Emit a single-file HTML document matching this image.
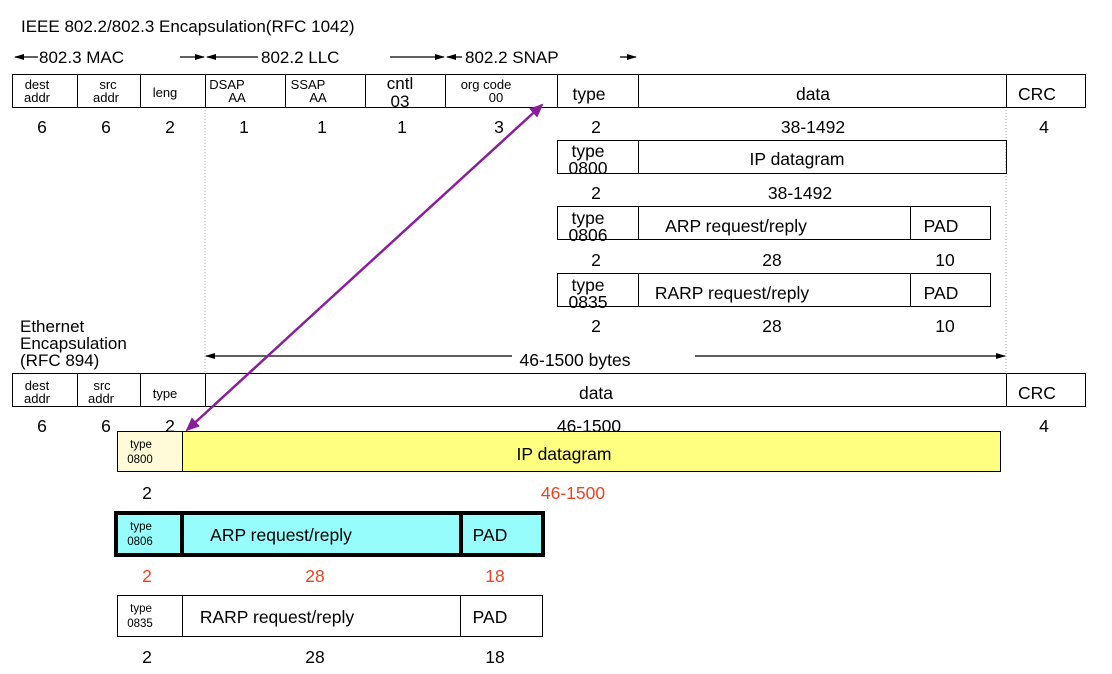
<!DOCTYPE html>
<html><head><meta charset="utf-8"><style>
html,body{margin:0;padding:0;background:#fff;}
svg{display:block;}
text{font-family:"Liberation Sans",Arial,sans-serif;fill:#000;}
</style></head><body>
<svg width="1112" height="674" viewBox="0 0 1112 674" xmlns="http://www.w3.org/2000/svg">
<defs>
<marker id="ah" markerWidth="10" markerHeight="8" refX="9" refY="4" orient="auto" markerUnits="userSpaceOnUse"><path d="M0,1 L10,4 L0,7 z" fill="#000"/></marker>
<marker id="pa" markerWidth="14" markerHeight="12" refX="12" refY="6" orient="auto" markerUnits="userSpaceOnUse"><path d="M0,0 L14,6 L0,12 z" fill="#8a1e9a"/></marker>
</defs>
<text x="21" y="32" font-size="17">IEEE 802.2/802.3 Encapsulation(RFC 1042)</text>
<g stroke="#000" stroke-width="1.3" fill="none">
<line x1="38" y1="57" x2="15" y2="57" marker-end="url(#ah)"/>
<line x1="180" y1="57" x2="204" y2="57" marker-end="url(#ah)"/>
<line x1="258" y1="57" x2="207" y2="57" marker-end="url(#ah)"/>
<line x1="390" y1="57" x2="444" y2="57" marker-end="url(#ah)"/>
<line x1="462" y1="57" x2="447" y2="57" marker-end="url(#ah)"/>
<line x1="620" y1="57" x2="636" y2="57" marker-end="url(#ah)"/>
</g>
<text x="39" y="63" font-size="17">802.3 MAC</text>
<text x="261" y="63" font-size="17">802.2 LLC</text>
<text x="465" y="63" font-size="17">802.2 SNAP</text>
<line x1="205" y1="107" x2="205" y2="373" stroke="#aaa" stroke-dasharray="1,2"/>
<line x1="1006" y1="107" x2="1006" y2="373" stroke="#aaa" stroke-dasharray="1,2"/>
<g fill="none" stroke="#000" stroke-width="1">
<rect x="12.5" y="74.5" width="1073" height="33"/>
<line x1="77.5" y1="74" x2="77.5" y2="107"/><line x1="140.5" y1="74" x2="140.5" y2="107"/>
<line x1="205.5" y1="74" x2="205.5" y2="107"/><line x1="285.5" y1="74" x2="285.5" y2="107"/>
<line x1="365.5" y1="74" x2="365.5" y2="107"/><line x1="445.5" y1="74" x2="445.5" y2="107"/>
<line x1="557.5" y1="74" x2="557.5" y2="107"/><line x1="638.5" y1="74" x2="638.5" y2="107"/>
<line x1="1006.5" y1="74" x2="1006.5" y2="107"/>
</g>
<g font-size="13" text-anchor="middle">
<text x="37" y="89">dest</text><text x="37" y="102">addr</text>
<text x="108" y="89">src</text><text x="106" y="102">addr</text>
<text x="165" y="97">leng</text>
<text x="227" y="89">DSAP</text><text x="237" y="102">AA</text>
<text x="308" y="89">SSAP</text><text x="318" y="102">AA</text>
<text x="400" y="89" font-size="17">cntl</text><text x="400" y="107" font-size="17">03</text>
<text x="486" y="89">org code</text><text x="496" y="102">00</text>
<text x="589" y="100" font-size="17.5">type</text>
<text x="813" y="100" font-size="17.5">data</text>
<text x="1037" y="100" font-size="17.5">CRC</text>
</g>
<g font-size="17.5" text-anchor="middle">
<text x="42" y="133">6</text><text x="106" y="133">6</text><text x="170" y="133">2</text>
<text x="244" y="133">1</text><text x="322" y="133">1</text><text x="402" y="133">1</text>
<text x="499" y="133">3</text><text x="596" y="133">2</text><text x="813" y="133">38-1492</text>
<text x="1044" y="133">4</text>
</g>
<g fill="none" stroke="#000" stroke-width="1">
<rect x="557.5" y="140.5" width="449" height="33"/><line x1="638.5" y1="140" x2="638.5" y2="173"/>
<rect x="557.5" y="206.5" width="433" height="33"/><line x1="638.5" y1="206" x2="638.5" y2="239"/><line x1="910.5" y1="206" x2="910.5" y2="239"/>
<rect x="557.5" y="273.5" width="433" height="33"/><line x1="638.5" y1="273" x2="638.5" y2="306"/><line x1="910.5" y1="273" x2="910.5" y2="306"/>
</g>
<g font-size="17.5" text-anchor="middle">
<text x="588" y="157">type</text><text x="588" y="174">0800</text>
<text x="797" y="165">IP datagram</text>
<text x="596" y="199">2</text><text x="800" y="199">38-1492</text>
<text x="588" y="224">type</text><text x="588" y="241">0806</text>
<text x="736" y="232">ARP request/reply</text><text x="941" y="232">PAD</text>
<text x="596" y="266">2</text><text x="772" y="266">28</text><text x="945" y="266">10</text>
<text x="588" y="291">type</text><text x="588" y="308">0835</text>
<text x="732" y="299">RARP request/reply</text><text x="941" y="299">PAD</text>
<text x="596" y="332">2</text><text x="772" y="332">28</text><text x="945" y="332">10</text>
</g>
<g font-size="17">
<text x="20" y="332">Ethernet</text><text x="20" y="349">Encapsulation</text><text x="20" y="366">(RFC 894)</text>
</g>
<g stroke="#000" stroke-width="1.3">
<line x1="512" y1="356" x2="206" y2="356" marker-end="url(#ah)"/>
<line x1="695" y1="356" x2="1005" y2="356" marker-end="url(#ah)"/>
</g>
<text x="575" y="366" font-size="17.5" text-anchor="middle">46-1500 bytes</text>
<g fill="none" stroke="#000" stroke-width="1">
<rect x="12.5" y="373.5" width="1073" height="33"/>
<line x1="77.5" y1="373" x2="77.5" y2="406"/><line x1="140.5" y1="373" x2="140.5" y2="406"/>
<line x1="205.5" y1="373" x2="205.5" y2="406"/><line x1="1006.5" y1="373" x2="1006.5" y2="406"/>
</g>
<g font-size="13" text-anchor="middle">
<text x="37" y="390">dest</text><text x="37" y="403">addr</text>
<text x="102" y="390">src</text><text x="101" y="403">addr</text>
<text x="165" y="398">type</text>
</g>
<text x="596" y="399" font-size="17.5" text-anchor="middle">data</text>
<text x="1037" y="399" font-size="17.5" text-anchor="middle">CRC</text>
<g font-size="17.5" text-anchor="middle">
<text x="42" y="432">6</text><text x="106" y="432">6</text><text x="170" y="432">2</text>
<text x="589" y="432">46-1500</text><text x="1044" y="432">4</text>
</g>
<rect x="117.5" y="431.5" width="883" height="40" fill="#ffff80" stroke="#000"/>
<rect x="117.5" y="431.5" width="65" height="40" fill="#fffbd8" stroke="#000"/>
<text x="141" y="448" font-size="11.5" text-anchor="middle">type</text>
<text x="140" y="463" font-size="11.5" text-anchor="middle">0800</text>
<text x="564" y="460" font-size="17.5" text-anchor="middle">IP datagram</text>
<text x="147" y="499" font-size="17.5" text-anchor="middle">2</text>
<text x="573" y="499" font-size="17.5" text-anchor="middle" style="fill:#ee4422">46-1500</text>
<rect x="116" y="513" width="427" height="42" fill="#96fcfc" stroke="#000" stroke-width="4"/>
<line x1="182" y1="513" x2="182" y2="555" stroke="#000" stroke-width="4"/>
<line x1="461" y1="513" x2="461" y2="555" stroke="#000" stroke-width="4"/>
<text x="141" y="530" font-size="11.5" text-anchor="middle">type</text>
<text x="140" y="545" font-size="11.5" text-anchor="middle">0806</text>
<text x="281" y="541" font-size="17.5" text-anchor="middle">ARP request/reply</text>
<text x="490" y="541" font-size="17.5" text-anchor="middle">PAD</text>
<g font-size="17.5" text-anchor="middle">
<text x="147" y="582" style="fill:#ee4422">2</text><text x="315" y="582" style="fill:#ee4422">28</text><text x="495" y="582" style="fill:#ee4422">18</text>
</g>
<rect x="117.5" y="595.5" width="425" height="41" fill="none" stroke="#000"/>
<line x1="182.5" y1="595" x2="182.5" y2="636" stroke="#000"/>
<line x1="460.5" y1="595" x2="460.5" y2="636" stroke="#000"/>
<text x="141" y="612" font-size="11.5" text-anchor="middle">type</text>
<text x="140" y="627" font-size="11.5" text-anchor="middle">0835</text>
<text x="277" y="623" font-size="17.5" text-anchor="middle">RARP request/reply</text>
<text x="490" y="623" font-size="17.5" text-anchor="middle">PAD</text>
<g font-size="17.5" text-anchor="middle">
<text x="147" y="663">2</text><text x="315" y="663">28</text><text x="495" y="663">18</text>
</g>
<line x1="320" y1="308" x2="542" y2="105" stroke="#8a1e9a" stroke-width="2.5" marker-end="url(#pa)"/>
<line x1="320" y1="308" x2="187" y2="430" stroke="#8a1e9a" stroke-width="2.5" marker-end="url(#pa)"/>
</svg>
</body></html>
